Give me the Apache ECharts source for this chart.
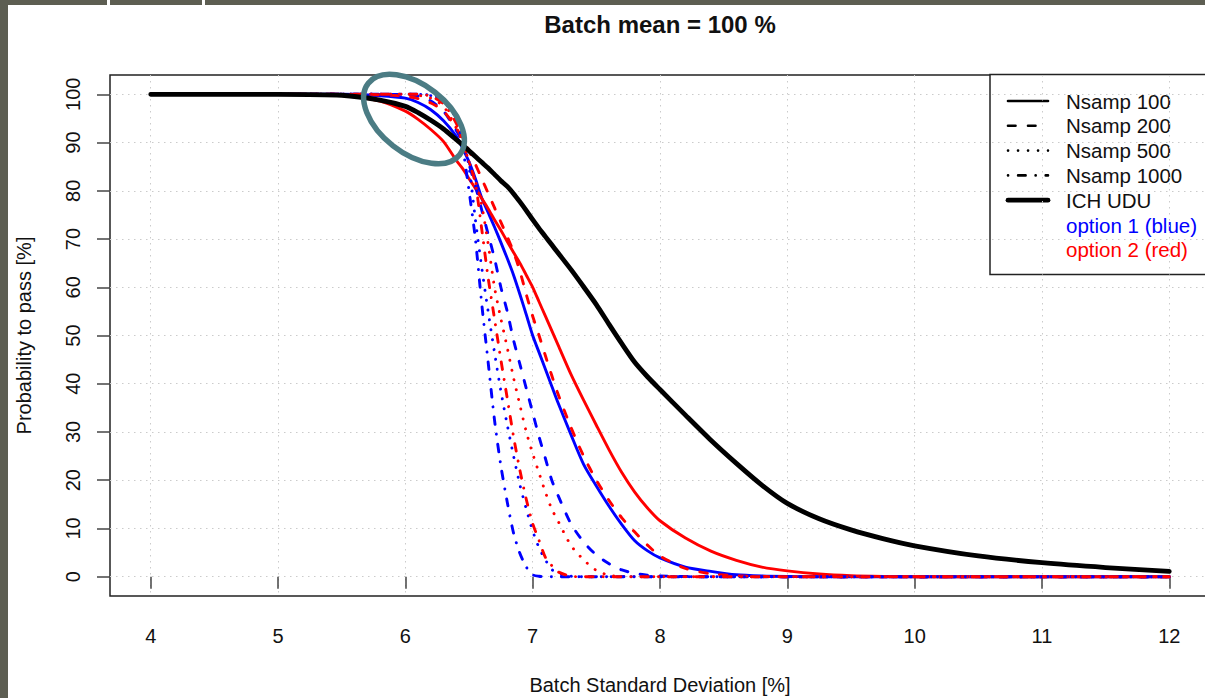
<!DOCTYPE html>
<html>
<head>
<meta charset="utf-8">
<script src="https://cdn.jsdelivr.net/npm/echarts@6/dist/echarts.min.js"></script>
<style>
html,body{margin:0;padding:0;background:#ffffff;overflow:hidden;}
#chart{width:1205px;height:698px;}
</style>
</head>
<body>
<div id="chart"></div>
<script>
// ---------------- data ----------------
const titleText = 'Batch mean = 100 %';
const xAxisTitle = 'Batch Standard Deviation [%]';
const yAxisTitle = 'Probability to pass [%]';
const xTicks = [4, 5, 6, 7, 8, 9, 10, 11, 12];
const yTicks = [0, 10, 20, 30, 40, 50, 60, 70, 80, 90, 100];

// batch standard deviation (x) sampling points
const sdGrid = [4, 5, 5.5, 5.8, 6.0, 6.1, 6.2, 6.3, 6.4, 6.45, 6.5, 6.55, 6.6, 6.65, 6.7, 6.75, 6.8, 6.85, 6.9, 6.95,
  7.0, 7.05, 7.1, 7.15, 7.2, 7.3, 7.4, 7.5, 7.6, 7.7, 7.8, 7.9, 8.0, 8.2, 8.4, 8.6, 8.8, 9.0, 9.25, 9.5, 9.75, 10, 10.5, 11, 11.5, 12];

// probability to pass [%]
const ichUdu = [100, 100, 99.8, 98.8, 97.5, 96.2, 94.6, 92.8, 90.6, 89.5, 88.3, 87.1, 85.9, 84.7, 83.4, 82.1, 80.9, 79.4, 77.7, 75.9,
  74, 72.2, 70.5, 68.8, 67.1, 63.7, 60.1, 56.4, 52.3, 48.3, 44.5, 41.5, 38.8, 33.5, 28.3, 23.5, 19, 15.2, 12, 9.7, 7.9, 6.4, 4.3, 2.9, 1.9, 1.1];

const opt1N100 = [100, 100, 100, 99.7, 99.2, 98.3, 96.8, 94.5, 91.3, 88.8, 86, 82.5, 78.5, 75.5, 72.5, 69.3, 66, 62.5, 58.5, 54.3,
  50, 46.5, 43, 39.5, 36, 29.5, 23.3, 18.8, 14.6, 10.8, 7.5, 5.4, 3.9, 2, 1.1, 0.4, 0.15, 0.05, 0, 0, 0, 0, 0, 0, 0, 0];
const opt2N100 = [100, 100, 99.8, 98.6, 96.5, 94.8, 92.7, 90.2, 86.3, 84.6, 82.5, 80.5, 78.4, 76.3, 74, 71.8, 69.5, 67.2, 65, 62.5,
  60, 57, 54, 51, 48, 42, 36.6, 31.4, 26.3, 21.6, 17.6, 14.3, 11.6, 8.0, 5.3, 3.4, 2.0, 1.2, 0.55, 0.2, 0.06, 0, 0, 0, 0, 0];

const opt1N200 = [100, 100, 100, 100, 99.9, 99.6, 98.6, 96.5, 92.5, 90, 85.5, 81, 76, 71, 66, 60, 55, 49, 44, 39,
  34, 29, 24.5, 20, 16.8, 11, 7.2, 4.5, 2.7, 1.4, 0.7, 0.3, 0.15, 0.05, 0, 0, 0, 0, 0, 0, 0, 0, 0, 0, 0, 0];
const opt2N200 = [100, 100, 100, 99.9, 99.6, 99.1, 98.2, 96.5, 93, 90.8, 88.3, 85.5, 82.5, 79.5, 76.5, 73.5, 70.5, 67.3, 63.3, 58.5,
  54, 50, 45.8, 41.7, 37.8, 31, 25, 20, 15.8, 12.2, 9.3, 6.6, 4.3, 1.7, 0.6, 0.2, 0.05, 0, 0, 0, 0, 0, 0, 0, 0, 0];

const opt1N500 = [100, 100, 100, 100, 100, 100, 99.7, 98.5, 95, 91, 85, 74, 64, 55, 46.5, 38.5, 31.5, 25, 19, 14,
  9.5, 6, 3.5, 1.5, 0.6, 0.1, 0, 0, 0, 0, 0, 0, 0, 0, 0, 0, 0, 0, 0, 0, 0, 0, 0, 0, 0, 0];
const opt2N500 = [100, 100, 100, 100, 100, 99.8, 99.2, 97.5, 93, 90, 86, 82, 77, 69, 60, 53.5, 47.5, 41.2, 35.5, 30,
  25.5, 21.5, 17.5, 14, 11.5, 6.5, 3.5, 1.3, 0.3, 0.05, 0, 0, 0, 0, 0, 0, 0, 0, 0, 0, 0, 0, 0, 0, 0, 0];

const opt1N1000 = [100, 100, 100, 100, 100, 100, 99.8, 98.8, 95, 89, 80, 70, 56.5, 44.5, 32.5, 23, 15.5, 9, 4.8, 2,
  0.4, 0.1, 0, 0, 0, 0, 0, 0, 0, 0, 0, 0, 0, 0, 0, 0, 0, 0, 0, 0, 0, 0, 0, 0, 0, 0];
const opt2N1000 = [100, 100, 100, 100, 100, 100, 99.6, 98, 94, 90, 86, 81.5, 72, 62, 53.5, 45, 37, 29, 22, 16,
  11, 7.5, 4, 2.3, 1, 0.1, 0, 0, 0, 0, 0, 0, 0, 0, 0, 0, 0, 0, 0, 0, 0, 0, 0, 0, 0, 0];

const legendLabels = ['Nsamp 100', 'Nsamp 200', 'Nsamp 500', 'Nsamp 1000', 'ICH UDU', 'option 1 (blue)', 'option 2 (red)'];

// ---------------- styles ----------------
const FONT = "'Liberation Sans', Arial, Helvetica, sans-serif";
const BLUE = '#0000ff', RED = '#ff0000', BLACK = '#000000';
const DASH = [7.5, 12.5];
const DOT = [0.1, 9.9];
const DASHDOT = [0.1, 10, 7.5, 10];
const COLW = 2.9, ICHW = 4.8;

function mkSeries(name, vals, color, dash, width) {
  return {
    name: name,
    type: 'line',
    data: sdGrid.map((x, i) => [x, vals[i]]),
    showSymbol: false,
    symbol: 'none',
    smooth: 0.25,
    silent: true,
    animation: false,
    lineStyle: { color: color, width: width, type: dash || 'solid', cap: 'round', join: 'round' }
  };
}

const series = [
  mkSeries('option 1, Nsamp 100', opt1N100, BLUE, null, COLW),
  mkSeries('option 2, Nsamp 100', opt2N100, RED, null, COLW),
  mkSeries('option 1, Nsamp 200', opt1N200, BLUE, DASH, COLW),
  mkSeries('option 2, Nsamp 200', opt2N200, RED, DASH, COLW),
  mkSeries('option 1, Nsamp 500', opt1N500, BLUE, DOT, COLW),
  mkSeries('option 2, Nsamp 500', opt2N500, RED, DOT, COLW),
  mkSeries('option 1, Nsamp 1000', opt1N1000, BLUE, DASHDOT, COLW),
  mkSeries('option 2, Nsamp 1000', opt2N1000, RED, DASHDOT, COLW),
  mkSeries('ICH UDU', ichUdu, BLACK, null, ICHW)
];

// ---------------- legend (drawn box, like base R legend) ----------------
const legX = 990, legY = 74.5, legBottom = 274.5, legRow0 = 101, legStep = 24.8;
const legendStyles = [
  { dash: null, w: 2.6, color: '#000' },
  { dash: DASH, w: 2.6, color: '#000' },
  { dash: DOT, w: 2.6, color: '#000' },
  { dash: DASHDOT, w: 2.6, color: '#000' },
  { dash: null, w: 4.8, color: '#000' },
  { dash: 'none', color: BLUE },
  { dash: 'none', color: RED }
];
const legendEls = [
  { type: 'rect', shape: { x: legX, y: legY, width: 260, height: legBottom - legY }, style: { fill: '#fff', stroke: null } },
  { type: 'polyline', shape: { points: [[1250, legY], [legX, legY], [legX, legBottom], [1250, legBottom]] },
    style: { fill: null, stroke: '#222', lineWidth: 1.5 } }
];
legendLabels.forEach((lab, i) => {
  const y = legRow0 + i * legStep;
  const st = legendStyles[i];
  if (st.dash !== 'none') {
    legendEls.push({
      type: 'line', shape: { x1: 1008, y1: y, x2: 1048, y2: y },
      style: { stroke: st.color, lineWidth: st.w, lineDash: st.dash || null, lineCap: 'round' }
    });
  }
  legendEls.push({
    type: 'text', x: 1066, y: y,
    style: { text: lab, fill: i >= 5 ? st.color : '#111', font: '20.5px ' + FONT, textVerticalAlign: 'middle', verticalAlign: 'middle', textAlign: 'left' }
  });
});

const option = {
  backgroundColor: '#ffffff',
  animation: false,
  title: {
    text: titleText, left: 660, top: 12, textAlign: 'center', padding: 0,
    textStyle: { fontSize: 24, fontWeight: 'bold', color: '#111', fontFamily: FONT }
  },
  grid: {
    left: 110, top: 75, width: 1100, height: 521,
    show: true, borderColor: '#222', borderWidth: 1.5, backgroundColor: 'transparent',
    containLabel: false, outerBoundsMode: 'none'
  },
  xAxis: {
    type: 'value', min: 3.68, max: 12.32,
    axisLine: { show: false },
    axisTick: { show: true, customValues: xTicks, length: 12, lineStyle: { color: '#444', width: 1.5 } },
    axisLabel: { customValues: xTicks, margin: 30, fontSize: 20, color: '#111', fontFamily: FONT },
    splitLine: { show: true, lineStyle: { color: '#cbcbcb', width: 1, type: [1.5, 4.5] } },
    name: xAxisTitle, nameLocation: 'middle', nameGap: 79,
    nameTextStyle: { fontSize: 20, color: '#111', fontFamily: FONT }
  },
  yAxis: {
    type: 'value', min: -4, max: 104,
    axisLine: { show: false },
    axisTick: { show: true, customValues: yTicks, length: 13, lineStyle: { color: '#444', width: 1.5 } },
    axisLabel: { customValues: yTicks, rotate: 90, margin: 27, fontSize: 20, color: '#111', fontFamily: FONT },
    splitLine: { show: true, lineStyle: { color: '#cbcbcb', width: 1, type: [1.5, 4.5] } },
    name: yAxisTitle, nameLocation: 'middle', nameGap: 76,
    nameTextStyle: { fontSize: 20, color: '#111', fontFamily: FONT }
  },
  series: series,
  graphic: [
    { type: 'group', z: 100, children: legendEls },
    {
      type: 'ellipse', z: 110, x: 414, y: 119, rotation: -38 * Math.PI / 180,
      shape: { cx: 0, cy: 0, rx: 58, ry: 34 },
      style: { fill: 'none', stroke: '#4b7c84', lineWidth: 5.5 }
    },
    { type: 'rect', z: 120, shape: { x: 0, y: 0, width: 8, height: 698 }, style: { fill: '#5d5e52' } },
    { type: 'rect', z: 120, shape: { x: 0, y: 0, width: 1205, height: 5 }, style: { fill: '#5d5e52' } },
    { type: 'rect', z: 121, shape: { x: 107, y: 0, width: 3, height: 5 }, style: { fill: '#ffffff' } },
    { type: 'rect', z: 121, shape: { x: 202, y: 0, width: 3, height: 5 }, style: { fill: '#ffffff' } }
  ]
};

const chart = echarts.init(document.getElementById('chart'), null, { renderer: 'svg', width: 1205, height: 698 });
chart.setOption(option);
</script>
</body>
</html>
